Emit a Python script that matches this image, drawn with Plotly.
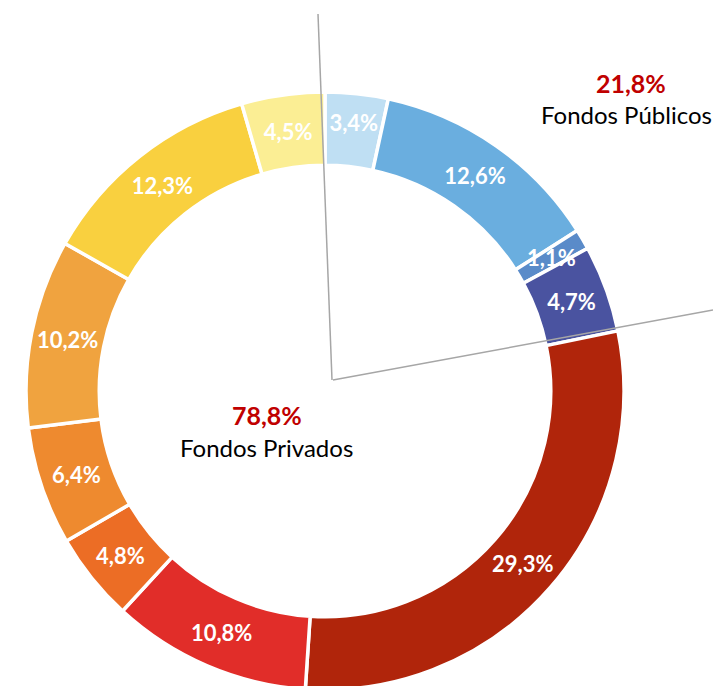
import math
import plotly.graph_objects as go

W, H = 713, 690  # figure slightly taller than the window; bottom is cropped like the reference

# Data (clockwise from 12 o'clock)
labels = ["Público A", "Público B", "Público C", "Público D",
          "Privado A", "Privado B", "Privado C", "Privado D",
          "Privado E", "Privado F", "Privado G"]
values = [3.4, 12.6, 1.1, 4.7, 29.3, 10.8, 4.8, 6.4, 10.2, 12.3, 4.5]
value_text = ["3,4%", "12,6%", "1,1%", "4,7%", "29,3%", "10,8%",
              "4,8%", "6,4%", "10,2%", "12,3%", "4,5%"]
colors = ["#BFDFF3", "#6AAEDF", "#5A8BC9", "#4A53A0", "#B0250B", "#E12D29",
          "#EC6D25", "#EE8A2F", "#F0A33F", "#F9D03F", "#FBEE94"]

group_pct = ["78,8%", "21,8%"]
group_names = ["Fondos Privados", "Fondos Públicos"]

# Ring geometry (pixels)
left, right, top, bottom = 26, 624, 92, 690
HOLE = 0.755
domain = dict(x=[left / W, right / W], y=[1 - bottom / H, 1 - top / H])
common = dict(labels=labels, values=values, hole=HOLE, sort=False,
              direction="clockwise", rotation=0, showlegend=False,
              domain=domain, hoverinfo="skip")

# The thin slice's label overflows its slice; place it at mid-ring via annotation
small_idx = [i for i, v in enumerate(values) if v < 2]
pie_text = ["" if i in small_idx else t for i, t in enumerate(value_text)]

fig = go.Figure()
fig.add_trace(go.Pie(
    **common,
    textinfo="none",
    marker=dict(colors=colors, line=dict(color="white", width=3.5)),
))
fig.add_trace(go.Pie(
    **common,
    text=pie_text,
    textinfo="text",
    textposition="inside",
    insidetextorientation="horizontal",
    textfont=dict(family="Lato", size=22, color="white", weight="bold"),
    marker=dict(colors=["rgba(0,0,0,0)"] * len(values),
                line=dict(color="rgba(0,0,0,0)", width=0)),
))

cx, cy = (left + right) / 2, (top + bottom) / 2
R = min(right - left, bottom - top) / 2
rmid = R * (1 + HOLE) / 2
total = sum(values)
for i in small_idx:
    frac = (sum(values[:i]) + values[i] / 2) / total
    ang = math.radians(90 - 360 * frac)
    px, py = cx + rmid * math.cos(ang), cy - rmid * math.sin(ang)
    fig.add_annotation(x=px / W, y=1 - py / H, xref="paper", yref="paper",
                       xanchor="center", yanchor="middle", showarrow=False,
                       text="<b>" + value_text[i] + "</b>",
                       font=dict(family="Lato", size=22, color="white"))

line_col = "#A6A6A6"
fig.add_shape(type="line", xref="paper", yref="paper",
              x0=318 / W, y0=1 - 14 / H, x1=332 / W, y1=1 - 380 / H,
              line=dict(color=line_col, width=1.5))
fig.add_shape(type="line", xref="paper", yref="paper",
              x0=333 / W, y0=1 - 380 / H, x1=713 / W, y1=1 - 310 / H,
              line=dict(color=line_col, width=1.5))

red = "#C00000"
fig.add_annotation(x=267 / W, y=1 - 415 / H, xref="paper", yref="paper",
                   xanchor="center", yanchor="middle",
                   text="<b>" + group_pct[0] + "</b>", showarrow=False,
                   font=dict(family="Lato", size=25, color=red))
fig.add_annotation(x=266 / W, y=1 - 448 / H, xref="paper", yref="paper",
                   xanchor="center", yanchor="middle",
                   text=group_names[0], showarrow=False,
                   font=dict(family="Lato", size=24, color="black"))
fig.add_annotation(x=631 / W, y=1 - 83 / H, xref="paper", yref="paper",
                   xanchor="center", yanchor="middle",
                   text="<b>" + group_pct[1] + "</b>", showarrow=False,
                   font=dict(family="Lato", size=25, color=red))
fig.add_annotation(x=539 / W, y=1 - 115 / H, xref="paper", yref="paper",
                   xanchor="left", yanchor="middle",
                   text=group_names[1], showarrow=False,
                   font=dict(family="Lato", size=24, color="black"))

fig.update_layout(
    width=W, height=H,
    margin=dict(l=0, r=0, t=0, b=0),
    paper_bgcolor="white",
    plot_bgcolor="white",
    uniformtext=dict(minsize=22, mode="show"),
)

fig.write_html("out.html",
               config={"displayModeBar": False},
               post_script="document.body.style.margin='0';"
                           "document.body.style.overflow='hidden';")
